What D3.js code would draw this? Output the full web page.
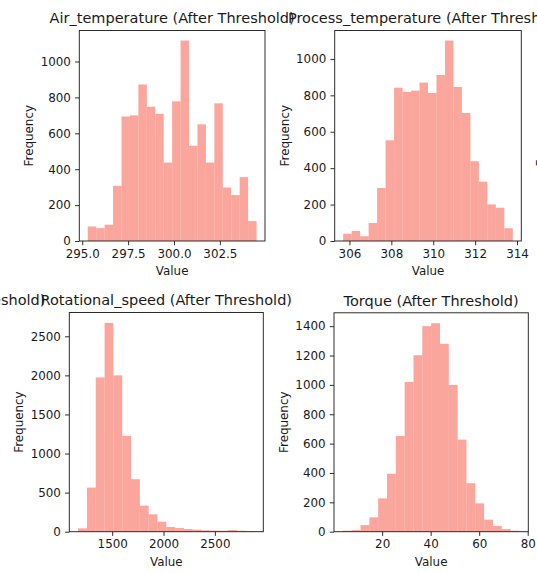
<!DOCTYPE html>
<html>
<head>
<meta charset="utf-8">
<script src="https://cdn.jsdelivr.net/npm/d3@7"></script>
<style>
  html, body { margin: 0; padding: 0; background: #fff; }
  svg { display: block; }
  text { font-family: "DejaVu Sans", sans-serif; fill: #1a1a1a; }
</style>
</head>
<body>
<script>
// ---- data ----
const airRange = [295.3, 304.5];
const airCounts = [81, 72, 91, 307, 694, 700, 872, 748, 709, 437, 778, 1117, 531, 650, 437, 767, 298, 256, 356, 111];
const airXTicks = [295.0, 297.5, 300.0, 302.5];
const airYTicks = [0, 200, 400, 600, 800, 1000];

const processRange = [305.7, 313.8];
const processCounts = [40, 55, 26, 99, 291, 553, 842, 819, 826, 870, 813, 912, 1101, 846, 703, 438, 326, 201, 183, 70];
const processXTicks = [306, 308, 310, 312, 314];
const processYTicks = [0, 200, 400, 600, 800, 1000];

const rotRange = [1168, 2886];
const rotCounts = [43, 564, 1974, 2671, 2000, 1226, 671, 333, 222, 128, 60, 47, 34, 26, 17, 15, 13, 21, 13, 9];
const rotXTicks = [1500, 2000, 2500];
const rotYTicks = [0, 500, 1000, 1500, 2000, 2500];

const torqueRange = [3.8, 76.6];
const torqueCounts = [7, 11, 45, 98, 227, 395, 652, 1020, 1202, 1400, 1420, 1280, 1000, 627, 330, 193, 82, 39, 18, 7];
const torqueXTicks = [20, 40, 60, 80];
const torqueYTicks = [0, 200, 400, 600, 800, 1000, 1200, 1400];

const titles = ["Air_temperature (After Threshold)", "Process_temperature (After Threshold)",
                "Rotational_speed (After Threshold)", "Torque (After Threshold)"];

// ---- layout ----
const W = 537, H = 574;
const FS = 11.9, TFS = 14.5;
const barColor = "salmon";

const panels = [
  {title: titles[0], range: airRange, counts: airCounts, xt: airXTicks, yt: airYTicks, xf: d3.format(".1f"),
   left: 79.3, right: 265, top: 30.5, bottom: 241},
  {title: titles[1], range: processRange, counts: processCounts, xt: processXTicks, yt: processYTicks, xf: d3.format("d"),
   left: 334.7, right: 521.3, top: 30.5, bottom: 241},
  {title: titles[2], range: rotRange, counts: rotCounts, xt: rotXTicks, yt: rotYTicks, xf: d3.format("d"),
   left: 69.3, right: 263.3, top: 312.5, bottom: 531.7},
  {title: titles[3], range: torqueRange, counts: torqueCounts, xt: torqueXTicks, yt: torqueYTicks, xf: d3.format("d"),
   left: 334, right: 528.3, top: 312.8, bottom: 531.7}
];

const svg = d3.select("body").append("svg").attr("width", W).attr("height", H)
  .attr("viewBox", `0 0 ${W} ${H}`);
svg.append("rect").attr("width", W).attr("height", H).attr("fill", "#fff");

panels.forEach(p => {
  const g = svg.append("g");
  const [lo, hi] = p.range;
  const n = p.counts.length;
  const m = (hi - lo) * 0.05;
  const x = d3.scaleLinear().domain([lo - m, hi + m]).range([p.left, p.right]);
  const y = d3.scaleLinear().domain([0, d3.max(p.counts) * 1.05]).range([p.bottom, p.top]);
  const edges = d3.range(n + 1).map(i => lo + i * (hi - lo) / n);

  g.selectAll("rect.bar").data(p.counts).join("rect")
    .attr("class", "bar")
    .attr("x", (d, i) => x(edges[i]))
    .attr("width", (d, i) => x(edges[i + 1]) - x(edges[i]))
    .attr("y", d => y(d))
    .attr("height", d => y(0) - y(d))
    .attr("fill", barColor)
    .attr("fill-opacity", 0.7);

  const xa = g.append("g").attr("transform", `translate(0,${p.bottom})`)
    .call(d3.axisBottom(x).tickValues(p.xt).tickFormat(p.xf).tickSize(4.2).tickPadding(4));
  const ya = g.append("g").attr("transform", `translate(${p.left},0)`)
    .call(d3.axisLeft(y).tickValues(p.yt).tickFormat(d3.format("d")).tickSize(4.2).tickPadding(4.2));
  [xa, ya].forEach(a => {
    a.select(".domain").remove();
    a.selectAll(".tick line").attr("stroke", "#222").attr("stroke-width", 0.95);
    a.selectAll(".tick text").attr("font-size", FS).attr("font-family", "DejaVu Sans").attr("fill", "#1a1a1a");
  });

  g.append("rect").attr("x", p.left).attr("y", p.top)
    .attr("width", p.right - p.left).attr("height", p.bottom - p.top)
    .attr("fill", "none").attr("stroke", "#222").attr("stroke-width", 0.95);

  const cx = (p.left + p.right) / 2;
  g.append("text").attr("x", cx).attr("y", p.top - 7.1)
    .attr("text-anchor", "middle").attr("font-size", TFS).text(p.title);
  g.append("text").attr("x", cx).attr("y", p.bottom + 34)
    .attr("text-anchor", "middle").attr("font-size", FS).text("Value");
  g.append("text").attr("transform", `translate(${p.left - 46},${(p.top + p.bottom) / 2}) rotate(-90)`)
    .attr("text-anchor", "middle").attr("font-size", FS).text("Frequency");
});

// neighbouring subplots of the original figure, cut off by the frame
svg.append("text").attr("x", 166.3 - 261).attr("y", 312.5 - 7.1)
  .attr("text-anchor", "middle").attr("font-size", TFS).text(titles[1]);
svg.append("text").attr("transform", `translate(${334.7 + 256 - 46},135.7) rotate(-90)`)
  .attr("text-anchor", "middle").attr("font-size", FS).text("Frequency");
</script>
</body>
</html>
